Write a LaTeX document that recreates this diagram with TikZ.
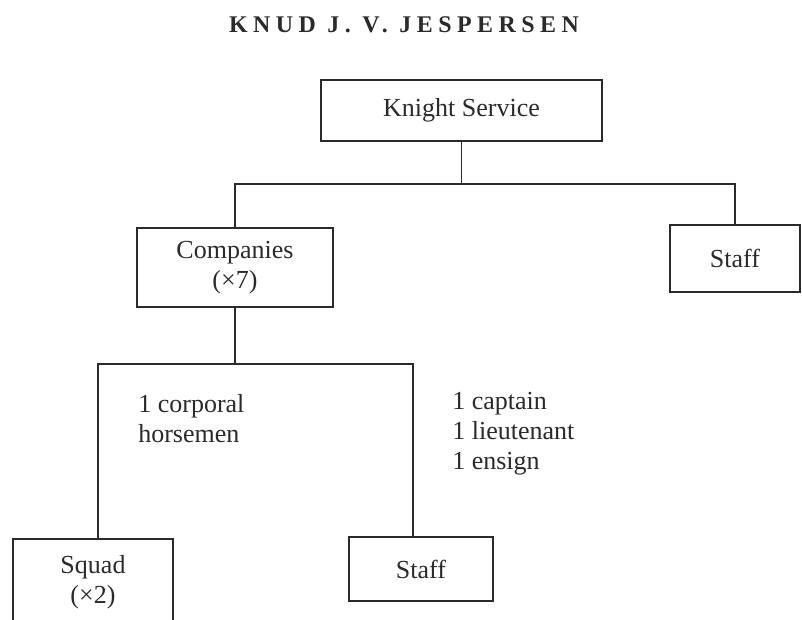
\documentclass[tikz,border=0pt]{standalone}
\usepackage{fontspec}
\setmainfont{Liberation Serif}
\definecolor{ink}{HTML}{2A2A2A}

\begin{document}
\begin{tikzpicture}[x=0.025cm, y=-0.025cm,
  box/.style={draw=ink, line width=1.8pt, text=ink, align=center, inner sep=0pt, font=\fontsize{18.5}{21.5}\selectfont},
  link/.style={draw=ink, line width=1.4pt},
  note/.style={text=ink, align=left, inner sep=0pt, anchor=north west, font=\fontsize{18.5}{21.5}\selectfont}]
\useasboundingbox (0,0) rectangle (802,619);
\node [text=ink, anchor=base, font=\fontsize{17}{17}\selectfont\bfseries\addfontfeature{LetterSpace=23}] (author) at (404,32) {KNUD J. V. JESPERSEN};
% boxes
\node [box, minimum width=7.025cm, minimum height=1.525cm] (knight) at (461.5,110.5) {Knight Service};
\node [box, minimum width=4.9cm, minimum height=1.975cm] (companies) at (235,267.5) {Companies\\(×7)};
\node [box, minimum width=3.25cm, minimum height=1.675cm] (staffa) at (735,258.5) {Staff};
\node [box, minimum width=4cm, minimum height=2.15cm] (squad) at (93,582) {Squad\\(×2)};
\node [box, minimum width=3.6cm, minimum height=1.6cm] (staffb) at (421,569) {Staff};
\node [note] (corporal) at (138,394) {1 corporal\\horsemen};
\node [note] (officers) at (452,392) {1 captain\\1 lieutenant\\1 ensign};
% lines
\draw [link] (knight.south) -- ++(0,42) coordinate (bar1);
\draw [link] (companies.north) |- (bar1) -| (staffa.north);
\draw [link] (companies.south) -- ++(0,56) coordinate (bar2);
\draw [link] ([xshift=0.125cm]squad.north) |- (bar2) -| ([xshift=-0.2cm]staffb.north);
\end{tikzpicture}
\end{document}
